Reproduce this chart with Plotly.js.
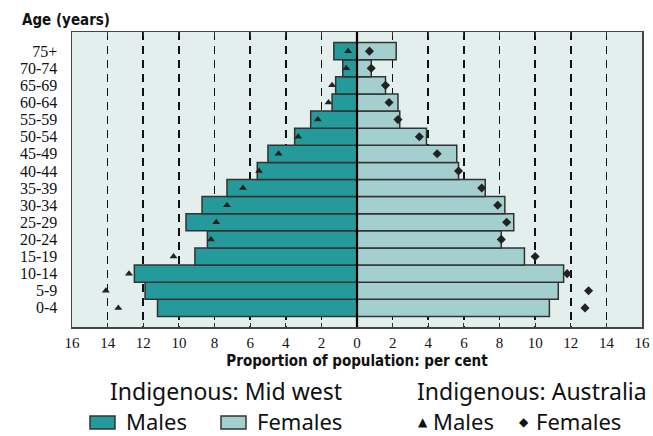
<!DOCTYPE html>
<html>
<head>
<meta charset="utf-8">
<script src="https://cdn.plot.ly/plotly-3.0.1.min.js"></script>
<style>html,body{margin:0;padding:0;background:#fff;}#chart{width:653px;height:436px;}</style>
</head>
<body>
<div id="chart"></div>
<script>
// Age groups, bottom to top
const ages = ['0-4','5-9','10-14','15-19','20-24','25-29','30-34','35-39','40-44','45-49','50-54','55-59','60-64','65-69','70-74','75+'];
// Indigenous: Mid west (per cent)
const midwestMales   = [11.2,11.9,12.5,9.1,8.4,9.6,8.7,7.3,5.6,5.0,3.5,2.6,1.4,1.2,0.8,1.3];
const midwestFemales = [10.8,11.3,11.6,9.4,8.1,8.8,8.3,7.2,5.7,5.6,3.9,2.4,2.3,1.6,0.8,2.2];
// Indigenous: Australia (per cent)
const ausMales   = [13.4,14.1,12.8,10.3,8.2,7.9,7.3,6.4,5.5,4.4,3.3,2.2,1.6,1.4,0.6,0.5];
const ausFemales = [12.8,13.0,11.8,10.0,8.1,8.4,7.9,7.0,5.7,4.5,3.5,2.3,1.8,1.6,0.8,0.7];
// X tick values and labels
const xTickVals = [-16,-14,-12,-10,-8,-6,-4,-2,0,2,4,6,8,10,12,14,16];
const xTickText = ['16','14','12','10','8','6','4','2','0','2','4','6','8','10','12','14','16'];

const W = 653, H = 436;
const L = 72, R = 11, T = 32, B = 109;
const pw = W - L - R, ph = H - T - B;
const px = x => (x - L) / pw;
const py = y => (H - B - y) / ph;

const teal = '#259a9a', light = '#a3cfcf', edge = '#333333';
const serif = 'Liberation Serif, Times New Roman, serif';
const narrow = 'Liberation Sans Narrow, DejaVu Sans Condensed, sans-serif';
const legendFont = 'Noto Sans, Lato, sans-serif';

const traces = [
  {type:'bar', orientation:'h', y: ages, x: midwestMales.map(v => -v), name:'Mid west Males',
   marker:{color:teal, line:{color:edge, width:1.5}}, hoverinfo:'skip'},
  {type:'bar', orientation:'h', y: ages, x: midwestFemales, name:'Mid west Females',
   marker:{color:light, line:{color:edge, width:1.5}}, hoverinfo:'skip'},
  {type:'scatter', mode:'markers', y: ages, x: ausMales.map(v => -v), name:'Australia Males',
   marker:{symbol:'triangle-up', size:7, color:'#222'}, hoverinfo:'skip'},
  {type:'scatter', mode:'markers', y: ages, x: ausFemales, name:'Australia Females',
   marker:{symbol:'diamond', size:7, color:'#222'}, hoverinfo:'skip'}
];

const ann = (text, x, y, xanchor, size, family, extra) => Object.assign({
  text, xref:'paper', yref:'paper', x:px(x), y:py(y), xanchor, yanchor:'middle', showarrow:false,
  font:{family, size, color:'#111'}}, extra || {});

const layout = {
  width: W, height: H,
  margin: {l:L, r:R, t:T, b:B, pad:0},
  paper_bgcolor:'#ffffff', plot_bgcolor:'#e2efed',
  barmode:'overlay', bargap:0,
  showlegend:false,
  xaxis: {
    range:[-16,16], tickmode:'array', tickvals:xTickVals, ticktext:xTickText,
    showgrid:true, gridcolor:'#111', gridwidth:1.6, griddash:'8px,6px',
    zeroline:false,
    ticks:'inside', ticklen:4, tickcolor:'#333', tickwidth:1, mirror:'ticks',
    showline:true, linecolor:'#444', linewidth:1.5,
    tickfont:{family:serif, size:15, color:'#111'},
    ticklabelstandoff: 1,
    title:{text:'Proportion of population: per cent', font:{family:narrow, size:15, color:'#111', weight:'bold'}, standoff:6},
    fixedrange:true
  },
  yaxis: {
    type:'category', categoryorder:'array', categoryarray:ages,
    tickmode:'array', tickvals:ages, ticktext:ages,
    showgrid:false, zeroline:false,
    ticks:'outside', ticklen:10, tickcolor:'rgba(0,0,0,0)',
    showline:true, linecolor:'#444', linewidth:1.5, mirror:true,
    tickfont:{family:serif, size:16, color:'#111'},
    fixedrange:true
  },
  shapes: [
    {type:'line', xref:'x', yref:'paper', x0:0, x1:0, y0:0, y1:1, line:{color:'#000', width:2.2}, layer:'above'},
    {type:'rect', xref:'paper', yref:'paper', x0:px(90), x1:px(115), y0:py(429), y1:py(416), fillcolor:teal, line:{color:edge, width:1.5}},
    {type:'rect', xref:'paper', yref:'paper', x0:px(221), x1:px(246), y0:py(429), y1:py(416), fillcolor:light, line:{color:edge, width:1.5}}
  ],
  annotations: [
    ann('(%, by age and sex)', 490, -24, 'right', 28, legendFont),
    ann('Age (years)', 20, 20, 'left', 15, narrow, {font:{family:narrow, size:15, color:'#111', weight:'bold'}}),
    ann('Indigenous: Mid west', 226, 391, 'center', 23, legendFont),
    ann('Indigenous: Australia', 532, 391, 'center', 23, legendFont),
    ann('Males', 124, 421, 'left', 22, legendFont),
    ann('Females', 255, 421, 'left', 22, legendFont),
    ann('\u25B2', 423, 422, 'center', 12, 'DejaVu Sans, sans-serif'),
    ann('Males', 431, 421, 'left', 22, legendFont),
    ann('\u25C6', 524, 422, 'center', 12, 'DejaVu Sans, sans-serif'),
    ann('Females', 534, 421, 'left', 22, legendFont)
  ]
};

Plotly.newPlot('chart', traces, layout, {displayModeBar:false, staticPlot:true});
</script>
</body>
</html>
